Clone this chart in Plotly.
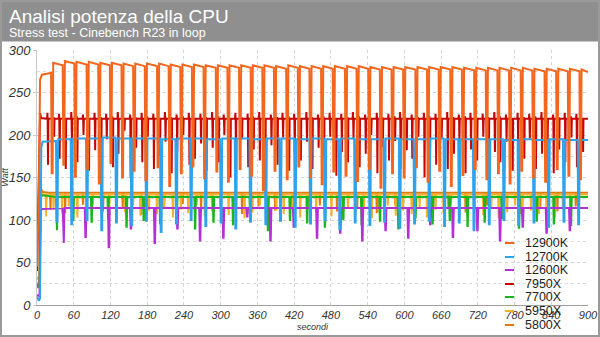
import plotly.graph_objects as go

# ---------------- data ----------------
series_names = ["12900K", "12700K", "12600K", "7950X", "7700X", "5950X", "5800X"]
series_colors = ["#f2661e", "#2ea3ec", "#b42fd6", "#c40606", "#1db51d", "#f6b12c", "#e27810"]

x_ticks = [0, 60, 120, 180, 240, 300, 360, 420, 480, 540, 600, 660, 720, 780, 840, 900]

# 12900K
k12900_ramp_t = [0, 3, 5, 8]
k12900_ramp_w = [45, 130, 265, 271]
k12900_dip_t = [24, 43, 62, 82, 101, 120, 139, 158, 177, 197, 216, 235, 254, 273, 293, 312,
                331, 350, 369, 388, 408, 427, 446, 465, 484, 504, 523, 542, 561, 580, 599, 619,
                638, 657, 676, 695, 715, 734, 753, 772, 791, 810, 830, 849, 868, 887]
k12900_dip_w = [155, 165, 151, 160, 143, 167, 150, 158, 147, 162, 140, 155, 163, 149, 157, 145,
                160, 152, 135, 158, 148, 163, 150, 142, 157, 152, 146, 160, 138, 155, 150, 162,
                145, 158, 140, 153, 160, 148, 155, 143, 158, 150, 145, 160, 152, 148]
k12900_level = [273, 283, 285, 284, 284, 283, 283, 282, 282, 282, 282, 281, 281, 281, 280, 280,
                280, 280, 280, 280, 279, 280, 279, 279, 279, 279, 279, 279, 278, 278, 278, 278,
                278, 278, 278, 278, 277, 277, 277, 277, 277, 277, 276, 276, 276, 276, 275]

# 12700K
k12700_ramp_t = [0, 3, 5, 7, 9]
k12700_ramp_w = [10, 5, 8, 185, 192]
k12700_dip_t = [32, 56, 81, 105, 129, 154, 178, 202, 227, 251, 275, 300, 324, 348, 373, 397,
                421, 446, 470, 494, 519, 543, 567, 592, 616, 640, 665, 689, 713, 738, 762, 786,
                811, 835, 860, 884]
k12700_dip_w = [98, 95, 100, 88, 97, 94, 99, 86, 96, 100, 93, 97, 90, 98, 95, 99,
                92, 96, 100, 89, 97, 94, 98, 91, 96, 99, 93, 97, 88, 95, 100, 94,
                97, 92, 98, 95]
k12700_level = [193, 195, 196, 196, 197, 196, 196, 196, 195, 196, 196, 195, 196, 196, 195, 196,
                196, 195, 196, 195, 196, 195, 195, 196, 195, 195, 196, 195, 195, 195, 195, 194,
                195, 194, 195, 194, 194]

# 12600K
k12600_ramp_t = [0, 4, 6, 8]
k12600_ramp_w = [12, 10, 110, 113]
k12600_dip_t = [43, 79, 117, 153, 192, 229, 266, 304, 343, 381, 419, 457, 495, 531, 569, 606,
                642, 679, 719, 756, 793, 832, 870]
k12600_dip_w = [73, 80, 68, 90, 73, 90, 76, 79, 104, 76, 92, 79, 85, 76, 88, 79,
                95, 80, 88, 76, 92, 85, 88]
k12600_level = 114

# 7950X
r7950_ramp_t = [0, 3, 5, 7]
r7950_ramp_w = [40, 150, 226, 220]
r7950_dip_t = [18, 28, 37, 47, 57, 66, 76, 85, 95, 105, 114, 124, 133, 143, 153, 162,
               172, 181, 191, 201, 210, 220, 229, 239, 249, 258, 268, 277, 287, 297, 306, 316,
               325, 335, 345, 354, 364, 373, 383, 393, 402, 412, 421, 431, 441, 450, 460, 469,
               479, 489, 498, 508, 517, 527, 537, 546, 556, 565, 575, 585, 594, 604, 613, 623,
               633, 642, 652, 661, 671, 681, 690, 700, 709, 719, 729, 738, 748, 757, 767, 777,
               786, 796, 805, 815, 825, 834, 844, 853, 863, 873, 882, 892]
r7950_dip_w = [165, 198, 172, 160, 190, 168, 200, 158, 182, 170, 195, 162, 178, 205, 150, 185,
               168, 198, 160, 175, 192, 155, 180, 200, 165, 172, 190, 158, 185, 168, 200, 150,
               178, 195, 162, 183, 170, 140, 188, 165, 197, 158, 180, 170, 192, 160, 185, 175,
               198, 152, 180, 168, 195, 162, 178, 200, 155, 186, 170, 193, 160, 182, 172, 198,
               150, 185, 165, 195, 160, 178, 190, 155, 183, 170, 198, 162, 180, 168, 192, 158,
               185, 172, 196, 160, 178, 190, 155, 183, 168, 197, 162, 180]
r7950_peak_w = [226, 221, 225, 220, 227, 222, 224, 220, 226, 221, 225, 222, 227, 220, 224, 221,
                226, 222, 225, 220, 227, 221, 224, 222, 226, 220, 225, 221, 227, 222, 224, 220,
                226, 221, 225, 222, 227, 220, 224, 221, 226, 222, 225, 220, 227, 221, 224, 222,
                226, 220, 225, 221, 227, 222, 224, 220, 226, 221, 225, 222, 227, 220, 224, 221,
                226, 222, 225, 220, 227, 221, 224, 222, 226, 220, 225, 221, 227, 222, 224, 220,
                226, 221, 225, 222, 227, 220, 224, 221, 226, 222, 225, 220]
r7950_level = 219

# 7700X
r7700_ramp_t = [0, 4, 6, 9]
r7700_ramp_w = [25, 20, 127, 129]
r7700_dip_t = [32, 59, 89, 116, 146, 174, 201, 228, 258, 288, 320, 348, 377, 413, 441, 470,
               500, 530, 560, 590, 618, 646, 674, 703, 731, 759, 787, 816, 844, 872]
r7700_dip_w = [88, 100, 98, 102, 92, 100, 96, 104, 90, 98, 95, 103, 88, 100, 97, 92,
               101, 95, 99, 90, 103, 96, 100, 93, 98, 102, 91, 99, 96, 94]
r7700_level = 127

# 5950X
r5950_ramp_t = [0, 4, 6, 9]
r5950_ramp_w = [30, 35, 132, 130]
r5950_dip_t = [15, 27, 41, 52, 66, 80, 91, 105, 118, 130, 144, 157, 169, 183, 196, 208,
               222, 235, 247, 261, 274, 286, 300, 313, 325, 339, 352, 364, 378, 391, 403, 417,
               430, 442, 456, 469, 481, 495, 508, 520, 534, 547, 559, 573, 586, 598, 612, 625,
               637, 651, 664, 676, 690, 703, 715, 729, 742, 754, 768, 781, 793, 807, 820, 832,
               846, 859, 871, 885]
r5950_dip_w = [104, 112, 108, 116, 103, 110, 118, 106, 113, 102, 109, 117, 105, 111, 107, 115,
               103, 112, 108, 118, 104, 110, 114, 106, 113, 102, 109, 117, 105, 111, 107, 115,
               103, 112, 108, 118, 104, 110, 114, 106, 113, 102, 109, 117, 105, 111, 107, 115,
               103, 112, 108, 118, 104, 110, 114, 106, 113, 102, 109, 117, 105, 111, 107, 115,
               103, 112, 108, 118]
r5950_level = 130

# 5800X
r5800_ramp_t = [0, 4, 6, 9]
r5800_ramp_w = [20, 30, 138, 133]
r5800_dip_t = [22, 46, 75, 108, 140, 170, 205, 238, 268, 300, 335, 362, 389, 420, 462, 490,
               523, 555, 585, 615, 645, 672, 700, 735, 760, 790, 822, 850, 880]
r5800_dip_w = [112, 108, 118, 110, 115, 106, 113, 119, 109, 114, 107, 116, 111, 105, 117, 110,
               113, 108, 118, 111, 106, 115, 109, 117, 112, 107, 114, 110, 116]
r5800_level = 132


# ---------------- build line points ----------------
def spike_series(ramp_t, ramp_w, dip_t, dip_w, level, peak_w=None, half=1.0, flat=0.0):
    xs, ys = list(ramp_t), list(ramp_w)
    levels = level if isinstance(level, list) else [level] * (len(dip_t) + 1)
    for i, (t, w) in enumerate(zip(dip_t, dip_w)):
        lv = levels[i]
        if peak_w is not None:
            xs += [t - 1.5, t - 1.0]
            ys += [lv, peak_w[i]]
        xs += [t - half, t]
        ys += [lv, w]
        if flat:
            xs.append(t + flat)
            ys.append(w)
        xs.append(t + flat + half)
        ys.append(levels[i + 1])
    xs.append(900)
    ys.append(levels[-1])
    return xs, ys


def k12900_series():
    xs, ys = list(k12900_ramp_t), list(k12900_ramp_w)
    lv = k12900_level
    for i, (t, w) in enumerate(zip(k12900_dip_t, k12900_dip_w)):
        xs += [t - 1, t, t + 1.5, t + 2.5]
        ys += [lv[i] - 1 if i else lv[i], w, w, lv[i + 1] + 2]
    xs.append(900)
    ys.append(lv[-1] - 1)
    return xs, ys


data = {
    "12900K": k12900_series(),
    "12700K": spike_series(k12700_ramp_t, k12700_ramp_w, k12700_dip_t, k12700_dip_w,
                           k12700_level, half=1.0, flat=1.5),
    "12600K": spike_series(k12600_ramp_t, k12600_ramp_w, k12600_dip_t, k12600_dip_w,
                           k12600_level, half=1.0, flat=0.8),
    "7950X": spike_series(r7950_ramp_t, r7950_ramp_w, r7950_dip_t, r7950_dip_w,
                          r7950_level, peak_w=r7950_peak_w, half=0.6),
    "7700X": spike_series(r7700_ramp_t, r7700_ramp_w, r7700_dip_t, r7700_dip_w,
                          r7700_level, half=0.9, flat=0.6),
    "5950X": spike_series(r5950_ramp_t, r5950_ramp_w, r5950_dip_t, r5950_dip_w,
                          r5950_level, half=0.8),
    "5800X": spike_series(r5800_ramp_t, r5800_ramp_w, r5800_dip_t, r5800_dip_w,
                          r5800_level, half=0.8),
}

fig = go.Figure()
# draw bottom-to-top so 12900K ends on top
for name, color in reversed(list(zip(series_names, series_colors))):
    xs, ys = data[name]
    fig.add_trace(go.Scatter(x=xs, y=ys, mode="lines", name=name,
                             line=dict(color=color, width=2), showlegend=False))

font_main = "Liberation Sans, Arial, sans-serif"

# pixel helpers for paper coordinates (plot area: x 37..588, y 50..305)
def px_x(p):
    return (p - 37) / 551


def px_y(p):
    return (305 - p) / 255


shapes = [
    dict(type="rect", xref="paper", yref="paper", x0=px_x(0), x1=px_x(600),
         y0=px_y(41), y1=px_y(0), fillcolor="#8f8f8f", line=dict(width=0), layer="below"),
    dict(type="line", xref="paper", yref="paper", x0=px_x(0), x1=px_x(600),
         y0=px_y(41.5), y1=px_y(41.5), line=dict(color="#c8c8c8", width=1)),
    dict(type="rect", xref="paper", yref="paper", x0=px_x(1), x1=px_x(599),
         y0=px_y(336), y1=px_y(1), fillcolor="rgba(0,0,0,0)",
         line=dict(color="#9a9a9a", width=2)),
]
annotations = [
    dict(text="Analisi potenza della CPU", xref="paper", yref="paper",
         x=px_x(7), y=px_y(4), xanchor="left", yanchor="top", showarrow=False,
         font=dict(size=19, color="white", family=font_main)),
    dict(text="Stress test - Cinebench R23 in loop", xref="paper", yref="paper",
         x=px_x(7), y=px_y(24.5), xanchor="left", yanchor="top", showarrow=False,
         font=dict(size=12.5, color="white", family=font_main)),
]

# legend drawn as short line swatches + text labels
legend_rows_px = [243, 257, 270, 284, 297, 311, 325]
for name, color, row in zip(series_names, series_colors, legend_rows_px):
    shapes.append(dict(type="line", xref="paper", yref="paper",
                       x0=px_x(505), x1=px_x(514), y0=px_y(row), y1=px_y(row),
                       line=dict(color=color, width=2)))
    annotations.append(dict(text=name, xref="paper", yref="paper",
                            x=px_x(523), y=px_y(row), xanchor="left", yanchor="middle",
                            showarrow=False,
                            font=dict(size=12.5, color="#222222", family=font_main)))

fig.update_layout(
    width=600, height=337,
    margin=dict(l=37, r=12, t=50, b=32, autoexpand=False),
    paper_bgcolor="white", plot_bgcolor="white",
    font=dict(family=font_main, color="#333333"),
    showlegend=False,
    shapes=shapes,
    annotations=annotations,
)

fig.update_xaxes(
    range=[0, 900], tickvals=x_ticks, ticktext=[str(v) for v in x_ticks],
    showgrid=True, gridcolor="#d4d4d4", griddash="dot", gridwidth=1,
    showline=True, linecolor="#a0a0a0", linewidth=1,
    ticks="",
    tickfont=dict(size=11, color="#333333", family=font_main, style="italic"),
    title=dict(text="secondi", font=dict(size=9, style="italic", color="#333333"), standoff=3),
    zeroline=False, automargin=False,
)
fig.update_yaxes(
    range=[0, 300], dtick=50,
    showgrid=True, gridcolor="#d4d4d4", griddash="dot", gridwidth=1,
    minor=dict(dtick=25, showgrid=True, gridcolor="#dcdcdc", griddash="dot"),
    showline=True, linecolor="#c8c8c8", linewidth=1,
    ticks="outside", ticklen=3, tickcolor="#c8c8c8",
    tickfont=dict(size=13, color="#333333", family=font_main, style="italic"),
    title=dict(text="Watt", font=dict(size=9, style="italic", color="#333333"), standoff=6),
    zeroline=False, automargin=False,
)

fig.write_html("out.html")
